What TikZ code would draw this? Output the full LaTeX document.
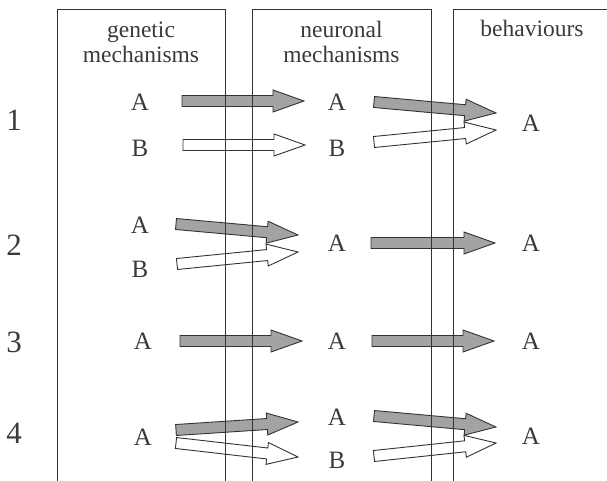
\documentclass[tikz,border=0pt]{standalone}
\usepackage{fontspec}
\setmainfont{Liberation Serif}
\usetikzlibrary{calc}
\definecolor{linecol}{HTML}{333333}
\definecolor{txtcol}{HTML}{3A3A3A}
\definecolor{arrgray}{HTML}{A2A4A4}
\tikzset{
  lbl/.style={inner sep=0pt, text=txtcol, font=\fontsize{25}{25}\selectfont},
  rownum/.style={inner sep=0pt, text=txtcol, font=\fontsize{31}{31}\selectfont},
  hdr/.style={inner sep=0pt, anchor=base, text=txtcol, font=\fontsize{23.5}{25}\selectfont},
  panel/.style={draw=linecol, line width=1pt},
  blk/.style={draw=linecol, line width=0.9pt, line join=miter}
}
\newcommand\blockarr[3]{%
  \coordinate (hb) at ($(#2)!31pt!(#1)$);
  \path[blk, fill=#3]
    ($(#1)!5.5pt!90:(#2)$) -- ($(hb)!5.5pt!90:(#2)$) -- ($(hb)!11pt!90:(#2)$)
    -- (#2) -- ($(hb)!11pt!-90:(#2)$) -- ($(hb)!5.5pt!-90:(#2)$)
    -- ($(#1)!5.5pt!-90:(#2)$) -- cycle;
}
\begin{document}
\begin{tikzpicture}[x=1pt,y=-1pt]
\useasboundingbox (0,0) rectangle (607,481);

% headers
\node[hdr] (h1a) at (141,38) {genetic};
\node[hdr] (h1b) at (141,63) {mechanisms};
\node[hdr] (h2a) at (341.5,38) {neuronal};
\node[hdr] (h2b) at (341.5,63) {mechanisms};
\node[hdr] (h3a) at (532,37) {behaviours};

% row numbers
\node[rownum] (r1) at (14,120) {1};
\node[rownum] (r2) at (14,245) {2};
\node[rownum] (r3) at (14,342) {3};
\node[rownum] (r4) at (14,433) {4};

% labels row 1
\node[lbl] (g1A) at (140,102) {A};
\node[lbl] (g1B) at (140,148) {B};
\node[lbl] (n1A) at (337,102) {A};
\node[lbl] (n1B) at (337,148) {B};
\node[lbl] (b1A) at (531,123) {A};
% row 2
\node[lbl] (g2A) at (140,225) {A};
\node[lbl] (g2B) at (140,269) {B};
\node[lbl] (n2A) at (337,243) {A};
\node[lbl] (b2A) at (531,243) {A};
% row 3
\node[lbl] (g3A) at (143,341) {A};
\node[lbl] (n3A) at (337,341) {A};
\node[lbl] (b3A) at (531,341) {A};
% row 4
\node[lbl] (g4A) at (143,437) {A};
\node[lbl] (n4A) at (337,417) {A};
\node[lbl] (n4B) at (337,460) {B};
\node[lbl] (b4A) at (531,436) {A};

% arrow end points
\coordinate (a1s) at (182,101); \coordinate (a1e) at (304,101);
\coordinate (a2s) at (183,145); \coordinate (a2e) at (305,145);
\coordinate (a3s) at (374,102); \coordinate (a3e) at (496,113);
\coordinate (a4s) at (374,142); \coordinate (a4e) at (496,130);

\coordinate (b1s) at (176,224); \coordinate (b1e) at (298,235);
\coordinate (b2s) at (177,264); \coordinate (b2e) at (298,252);
\coordinate (b3s) at (371,243); \coordinate (b3e) at (495,243);

\coordinate (c1s) at (180,341); \coordinate (c1e) at (302,341);
\coordinate (c2s) at (372,341); \coordinate (c2e) at (494,341);

\coordinate (d1s) at (176,430); \coordinate (d1e) at (298,422);
\coordinate (d2s) at (176,443); \coordinate (d2e) at (298,457);
\coordinate (d3s) at (374,416); \coordinate (d3e) at (496,427);
\coordinate (d4s) at (374,456); \coordinate (d4e) at (496,443);

% arrows: white first, grey on top
\blockarr{a2s}{a2e}{white}
\blockarr{a1s}{a1e}{arrgray}
\blockarr{a4s}{a4e}{white}
\blockarr{a3s}{a3e}{arrgray}

\blockarr{b2s}{b2e}{white}
\blockarr{b1s}{b1e}{arrgray}
\blockarr{b3s}{b3e}{arrgray}

\blockarr{c1s}{c1e}{arrgray}
\blockarr{c2s}{c2e}{arrgray}

\blockarr{d2s}{d2e}{white}
\blockarr{d1s}{d1e}{arrgray}
\blockarr{d4s}{d4e}{white}
\blockarr{d3s}{d3e}{arrgray}

% panels (open at the bottom)
\draw[panel] (57,481) -- (57,9.5) -- (225,9.5) -- (225,481);
\draw[panel] (252,481) -- (252,9.5) -- (431,9.5) -- (431,481);
\draw[panel] (453,481) -- (453,9.5) -- (607,9.5);
\end{tikzpicture}
\end{document}
